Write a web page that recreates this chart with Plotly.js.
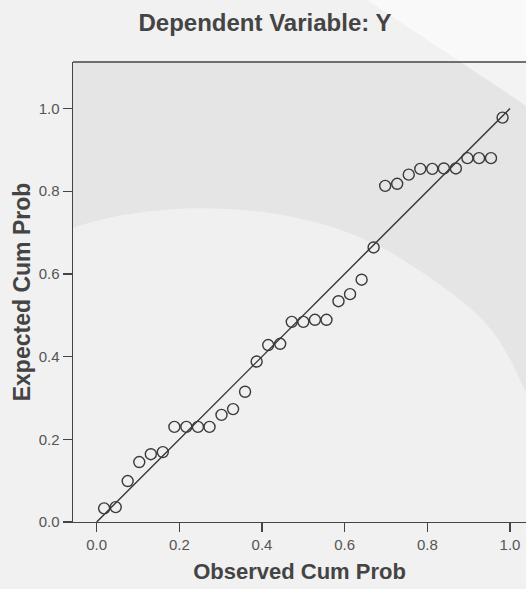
<!DOCTYPE html>
<html>
<head>
<meta charset="utf-8">
<script src="https://cdn.plot.ly/plotly-3.0.1.min.js"></script>
<style>
html,body{margin:0;padding:0;background:#f1f1f1;}
#chart{width:526px;height:589px;}
</style>
</head>
<body>
<div id="chart"></div>
<script>
// Observed cumulative probability (x) and expected cumulative probability (y)
const observedCumProb = [0.018,0.046,0.075,0.103,0.131,0.160,0.188,0.217,0.245,0.273,
  0.302,0.330,0.359,0.387,0.415,0.444,0.472,0.500,0.528,0.556,
  0.585,0.613,0.641,0.670,0.698,0.727,0.755,0.783,0.812,0.840,
  0.869,0.897,0.925,0.954,0.982];
const expectedCumProb = [0.033,0.036,0.099,0.145,0.164,0.169,0.230,0.230,0.230,0.230,
  0.259,0.273,0.315,0.388,0.428,0.431,0.484,0.484,0.489,0.489,
  0.534,0.551,0.586,0.664,0.813,0.818,0.840,0.854,0.854,0.855,
  0.855,0.880,0.880,0.880,0.978];
const refLineX = [0, 1];
const refLineY = [0, 1];
const tickVals = [0, 0.2, 0.4, 0.6, 0.8, 1.0];
const tickLabels = ['0.0','0.2','0.4','0.6','0.8','1.0'];

// plot area geometry in pixels (for background watermark shading only)
const L = 73, T = 62, R = 526, B = 522;
const px = x => ((x - L) / (R - L)).toFixed(4);
const py = y => ((B - y) / (B - T)).toFixed(4);
const P = (x, y) => px(x) + ',' + py(y);

const arcPath = 'M ' + P(73,228) + ' C ' + P(150,200) + ' ' + P(300,195) + ' ' + P(400,258) +
  ' S ' + P(500,340) + ' ' + P(526,392) + ' L ' + P(526,522) + ' L ' + P(73,522) + ' Z';
const cornerPath = 'M ' + P(367,0) + ' L ' + P(540,0) + ' L ' + P(540,115) + ' Z';

const font = 'Liberation Sans, Arial, Helvetica, sans-serif';

const traces = [
  {
    x: refLineX, y: refLineY, type: 'scatter', mode: 'lines',
    line: {color: '#333333', width: 1.4},
    hoverinfo: 'skip', showlegend: false, cliponaxis: false
  },
  {
    x: observedCumProb, y: expectedCumProb, type: 'scatter', mode: 'markers',
    marker: {symbol: 'circle-open', size: 11, color: '#3a3a3a', line: {width: 1.4, color: '#3a3a3a'}},
    showlegend: false, cliponaxis: false
  }
];

const axisCommon = {
  showline: true, linecolor: '#444444', linewidth: 1.4,
  ticks: 'outside', ticklen: 9, tickwidth: 1.4, tickcolor: '#444444',
  showgrid: false, zeroline: false,
  tickvals: tickVals, ticktext: tickLabels,
  tickfont: {family: font, size: 15, color: '#555555'},
  fixedrange: true
};

const layout = {
  width: 526, height: 589,
  margin: {l: L, r: 0, t: T, b: 589 - B, pad: 0},
  paper_bgcolor: '#f1f1f1',
  plot_bgcolor: 'rgba(0,0,0,0)',
  title: {
    text: '<b>Dependent Variable: Y</b>',
    font: {family: font, size: 24, color: '#444444'},
    x: 265 / 526, xref: 'container', xanchor: 'center',
    y: 1 - 23 / 589, yref: 'container', yanchor: 'middle'
  },
  xaxis: Object.assign({}, axisCommon, {
    range: [-0.0573, 1.0387],
    title: {text: '<b>Observed Cum Prob</b>', font: {family: font, size: 22, color: '#444444'}, standoff: 11}
  }),
  yaxis: Object.assign({}, axisCommon, {
    range: [0, 1.1125],
    title: {text: '<b>Expected Cum Prob</b>', font: {family: font, size: 23, color: '#444444'}, standoff: 1}
  }),
  shapes: [
    {type: 'rect', xref: 'paper', yref: 'paper', x0: 0, x1: 1, y0: 0, y1: 1,
     fillcolor: '#e5e5e5', line: {width: 0}, layer: 'below'},
    {type: 'path', xref: 'paper', yref: 'paper', path: arcPath,
     fillcolor: '#f0f0f0', line: {width: 0}, layer: 'below'},
    {type: 'path', xref: 'paper', yref: 'paper', path: cornerPath,
     fillcolor: 'rgba(255,255,255,0.55)', line: {width: 0}, layer: 'below'},
    {type: 'line', xref: 'paper', yref: 'paper', x0: 0, x1: 1.02, y0: 1, y1: 1,
     line: {color: '#444444', width: 1.4}, layer: 'above'}
  ]
};

Plotly.newPlot('chart', traces, layout, {displayModeBar: false, staticPlot: true});
</script>
</body>
</html>
